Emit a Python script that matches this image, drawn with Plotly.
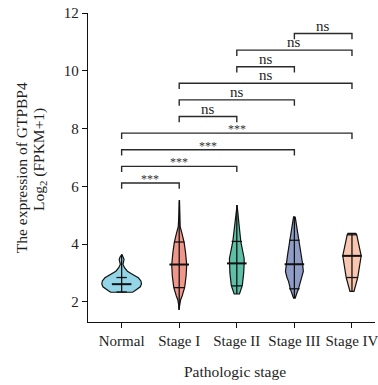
import plotly.graph_objects as go

# Groups and colours
groups = ["Normal", "Stage I", "Stage II", "Stage III", "Stage IV"]
fill_colors = ["#94d5e7", "#ef978a", "#5ebfa6", "#8f9dc6", "#f9c7af"]

# Summary statistics per group (log2(FPKM+1))
q1 = [2.34, 2.49, 2.55, 2.45, 2.84]
median = [2.61, 3.29, 3.33, 3.30, 3.59]
q3 = [2.84, 4.07, 4.09, 4.13, 4.32]
minimum = [2.33, 1.72, 2.27, 2.13, 2.36]
maximum = [3.64, 5.52, 5.35, 4.94, 4.37]

# Violin outlines: expression level and half-width of the density at that level
normal_y = [3.64, 3.56, 3.47, 3.40, 3.30, 3.18, 3.06, 2.94, 2.83, 2.72, 2.62, 2.52, 2.44, 2.38, 2.33]
normal_w = [0.006, 0.025, 0.042, 0.035, 0.022, 0.05, 0.10, 0.20, 0.29, 0.335, 0.344, 0.325, 0.28, 0.23, 0.19]
stage1_y = [5.52, 4.90, 4.60, 4.35, 4.06, 3.70, 3.28, 2.90, 2.50, 2.20, 2.07, 1.90, 1.72]
stage1_w = [0.005, 0.008, 0.017, 0.05, 0.085, 0.11, 0.13, 0.12, 0.095, 0.05, 0.025, 0.01, 0.005]
stage2_y = [5.35, 5.00, 4.60, 4.08, 3.50, 3.33, 3.00, 2.56, 2.35, 2.27]
stage2_w = [0.005, 0.017, 0.043, 0.07, 0.128, 0.128, 0.12, 0.095, 0.06, 0.046]
stage3_y = [4.94, 4.60, 4.14, 3.60, 3.31, 3.05, 2.85, 2.70, 2.44, 2.25, 2.13]
stage3_w = [0.014, 0.043, 0.078, 0.12, 0.143, 0.155, 0.13, 0.10, 0.07, 0.035, 0.014]
stage4_y = [4.37, 4.30, 3.59, 2.84, 2.36]
stage4_w = [0.07, 0.085, 0.16, 0.10, 0.035]
profiles = [(normal_y, normal_w), (stage1_y, stage1_w), (stage2_y, stage2_w),
            (stage3_y, stage3_w), (stage4_y, stage4_w)]

# Pairwise comparisons: (group a, group b, label, bracket height)
comp_a = [0, 0, 0, 0, 1, 1, 1, 2, 2, 3]
comp_b = [1, 2, 3, 4, 2, 3, 4, 3, 4, 4]
comp_label = ["***", "***", "***", "***", "ns", "ns", "ns", "ns", "ns", "ns"]
comp_height = [6.115, 6.69, 7.265, 7.84, 8.415, 8.99, 9.565, 10.14, 10.715, 11.29]

y_ticks = [2, 4, 6, 8, 10, 12]

FONT = "Liberation Serif"
INK = "#1e1e1e"
MED_HALF = 0.17
Q_HALF = 0.09
TICK_DROP = 0.2

fig = go.Figure()

for i, (vy, vw) in enumerate(profiles):
    xs = [i + w for w in vw] + [i - w for w in reversed(vw)]
    ys = list(vy) + list(reversed(vy))
    fig.add_trace(go.Scatter(x=xs + [xs[0]], y=ys + [ys[0]], mode="lines", fill="toself",
                             fillcolor=fill_colors[i], line=dict(color="#111111", width=1.2),
                             hoverinfo="skip", showlegend=False))
    # min-max spine
    fig.add_trace(go.Scatter(x=[i, i], y=[minimum[i], maximum[i]], mode="lines",
                             line=dict(color="#111111", width=1.3), hoverinfo="skip", showlegend=False))
    # quartile bars
    for q in (q1[i], q3[i]):
        fig.add_trace(go.Scatter(x=[i - Q_HALF, i + Q_HALF], y=[q, q], mode="lines",
                                 line=dict(color="#111111", width=1.3), hoverinfo="skip", showlegend=False))
    # median bar
    fig.add_trace(go.Scatter(x=[i - MED_HALF, i + MED_HALF], y=[median[i], median[i]], mode="lines",
                             line=dict(color="#111111", width=2), hoverinfo="skip", showlegend=False))

annotations = []
for a, b, lab, h in zip(comp_a, comp_b, comp_label, comp_height):
    fig.add_trace(go.Scatter(x=[a, a, b, b], y=[h - TICK_DROP, h, h, h - TICK_DROP], mode="lines",
                             line=dict(color="#2a2a2a", width=1.4), hoverinfo="skip", showlegend=False))
    if lab == "ns":
        annotations.append(dict(x=(a + b) / 2, y=h, xref="x", yref="y", text=lab, showarrow=False,
                                yanchor="bottom", yshift=-2, font=dict(family=FONT, size=15, color=INK)))
    else:
        annotations.append(dict(x=(a + b) / 2, y=h, xref="x", yref="y", text=lab, showarrow=False,
                                yanchor="bottom", yshift=-5, font=dict(family=FONT, size=12, color="#333333")))

W, H = 378, 385
L, R, T, B = 88, 0, 13, 63
PW, PH = W - L - R, H - T - B


def px_to_paper(px, py):
    return (px - L) / PW, (H - B - py) / PH


title_specs = [
    ("Pathologic stage", 236.5, 371.5, 0),
    ("The expression of GTPBP4", 21, 167.5, -90),
    ("Log<sub>2</sub> (FPKM+1)", 38.5, 160, -90),
]
for text, px, py, ang in title_specs:
    ax, ay = px_to_paper(px, py)
    annotations.append(dict(x=ax, y=ay, xref="paper", yref="paper", text=text, textangle=ang,
                            xanchor="center", yanchor="middle", showarrow=False,
                            font=dict(family=FONT, size=15.5, color=INK)))

fig.update_layout(
    width=W, height=H,
    margin=dict(l=L, r=R, t=T, b=B),
    paper_bgcolor="white", plot_bgcolor="white",
    showlegend=False,
    annotations=annotations,
    xaxis=dict(range=[-0.584, 4.40], tickvals=list(range(len(groups))), ticktext=groups,
               showgrid=False, zeroline=False, showline=True, linecolor="#111111", linewidth=1.3,
               ticks="outside", ticklen=5, tickwidth=1.3, tickcolor="#111111",
               ticklabeloverflow="allow",
               tickfont=dict(family=FONT, size=15, color=INK)),
    yaxis=dict(range=[1.3, 12.0], tickvals=y_ticks, showgrid=False, zeroline=False,
               showline=True, linecolor="#111111", linewidth=1.3,
               ticks="outside", ticklen=5, tickwidth=1.3, tickcolor="#111111",
               tickfont=dict(family=FONT, size=15, color=INK)),
)

fig.write_html("out.html")
